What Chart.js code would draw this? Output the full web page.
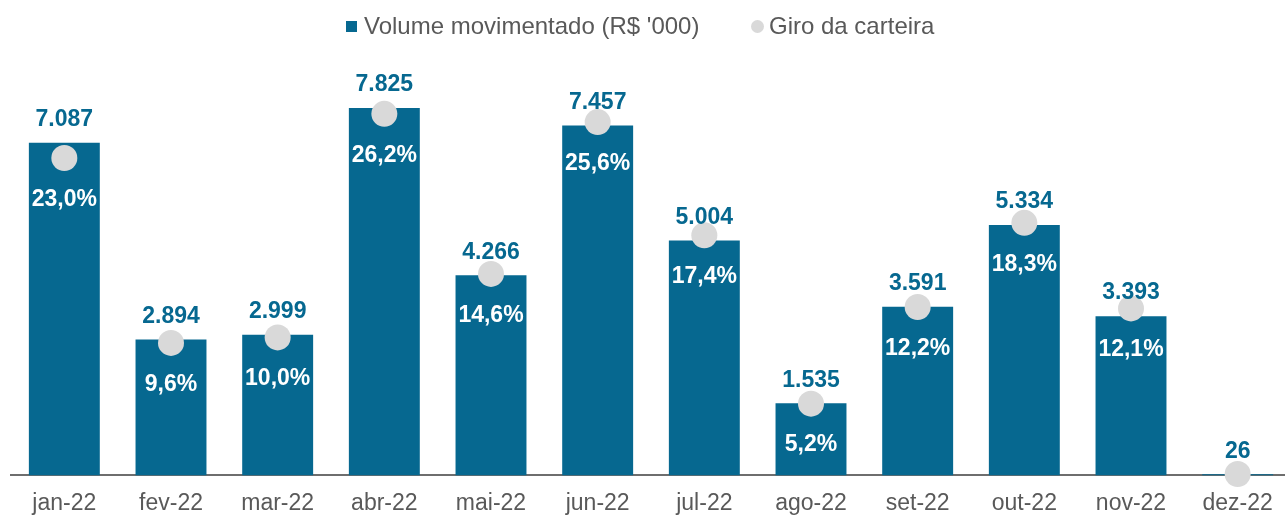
<!DOCTYPE html>
<html lang="pt-BR">
<head>
  <meta charset="UTF-8">
  <title>Volume movimentado e giro da carteira</title>
  <script src="https://cdn.jsdelivr.net/npm/chart.js"></script>
  <style>
    html, body {
      margin: 0;
      padding: 0;
      background: #ffffff;
      overflow: hidden;
      width: 1285px;
      height: 515px;
    }
    .wrap {
      position: absolute;
      left: 0;
      top: 0;
      width: 1300px;
      height: 531px;
    }
    .legenda {
      position: absolute;
      top: 12px;
      left: 0;
      font-family: "Liberation Sans", Arial, sans-serif;
      font-size: 24px;
      line-height: 28px;
      color: #595959;
      white-space: nowrap;
      z-index: 2;
    }
    .legenda span { position: absolute; }
    .quadrado {
      top: 9px;
      width: 11px;
      height: 11px;
      background: #066890;
    }
    .bolinha {
      top: 8px;
      width: 13px;
      height: 13px;
      border-radius: 50%;
      background: #d9d9d9;
    }
  </style>
</head>
<body>
  <div class="wrap">
    <canvas id="grafico"></canvas>
  </div>
  <div class="legenda">
    <span class="quadrado" style="left:346px"></span>
    <span style="left:364px">Volume movimentado (R$ '000)</span>
    <span class="bolinha" style="left:751px"></span>
    <span style="left:769px">Giro da carteira</span>
  </div>

  <script>
    // dados
    const meses = ['jan-22', 'fev-22', 'mar-22', 'abr-22', 'mai-22', 'jun-22', 'jul-22', 'ago-22', 'set-22', 'out-22', 'nov-22', 'dez-22'];
    const volume = [7087, 2894, 2999, 7825, 4266, 7457, 5004, 1535, 3591, 5334, 3393, 26];
    const giro = [23.0, 9.6, 10.0, 26.2, 14.6, 25.6, 17.4, 5.2, 12.2, 18.3, 12.1, 0.1];

    const azul = '#066890';
    const cinza = '#d9d9d9';
    const texto = '#595959';
    const fonte = '"Liberation Sans", Arial, sans-serif';

    function fmtMilhar(v) {
      return String(v).replace(/\B(?=(\d{3})+(?!\d))/g, '.');
    }
    function fmtPct(v) {
      return v.toFixed(1).replace('.', ',') + '%';
    }

    // rótulos: valor acima da barra e % abaixo da bolinha
    const rotulos = {
      id: 'rotulos',
      afterDatasetsDraw(chart) {
        const ctx = chart.ctx;
        const barras = chart.getDatasetMeta(0).data;
        const pontos = chart.getDatasetMeta(1).data;
        ctx.save();
        ctx.font = 'bold 23px ' + fonte;
        ctx.textAlign = 'center';
        ctx.textBaseline = 'middle';
        barras.forEach((b, i) => {
          ctx.fillStyle = azul;
          ctx.fillText(fmtMilhar(volume[i]), b.x, b.y - 23);
        });
        pontos.forEach((p, i) => {
          if (giro[i] < 1) return;
          ctx.fillStyle = '#ffffff';
          ctx.fillText(fmtPct(giro[i]), p.x, p.y + 41.5);
        });
        ctx.restore();
      }
    };

    new Chart(document.getElementById('grafico'), {
      data: {
        labels: meses,
        datasets: [
          {
            type: 'bar',
            label: "Volume movimentado (R$ '000)",
            data: volume,
            backgroundColor: azul,
            yAxisID: 'y',
            order: 1,
            barPercentage: 0.665,
            categoryPercentage: 1
          },
          {
            type: 'line',
            label: 'Giro da carteira',
            data: giro,
            showLine: false,
            pointRadius: 13,
            pointHoverRadius: 13,
            pointBackgroundColor: cinza,
            pointBorderWidth: 0,
            backgroundColor: cinza,
            borderColor: cinza,
            yAxisID: 'y1',
            order: 0,
            clip: false
          }
        ]
      },
      options: {
        responsive: true,
        maintainAspectRatio: false,
        animation: false,
        layout: {
          autoPadding: false,
          padding: { left: 11, right: 9, top: 60, bottom: 0 }
        },
        plugins: {
          legend: { display: false },
          tooltip: { enabled: false }
        },
        scales: {
          x: {
            grid: { display: false, drawTicks: false },
            border: { display: true, color: '#6e6e6e', width: 2 },
            ticks: {
              color: texto,
              font: { family: fonte, size: 23 },
              padding: 14,
              maxRotation: 0
            }
          },
          y: {
            display: false,
            min: 0,
            max: 8850
          },
          y1: {
            display: false,
            min: 0,
            max: 30.1
          }
        }
      },
      plugins: [rotulos]
    });
  </script>
</body>
</html>
